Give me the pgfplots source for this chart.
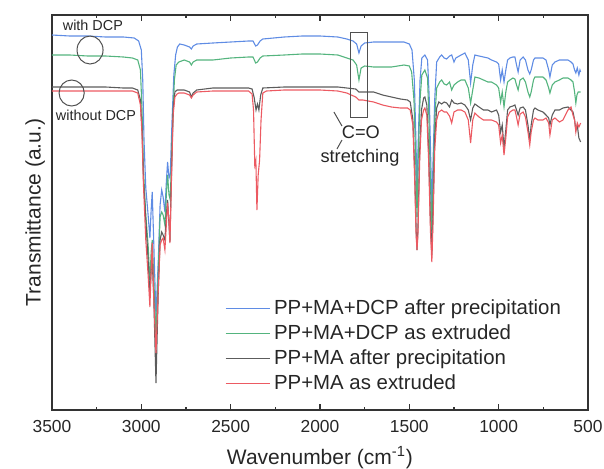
\documentclass[border=0pt]{standalone}
\usepackage{fontspec}
\setmainfont{Liberation Sans}
\usepackage{pgfplots}
\pgfplotsset{compat=1.18}

\definecolor{cblue}{RGB}{95,140,228}
\definecolor{cgreen}{RGB}{84,180,126}
\definecolor{cdark}{RGB}{92,92,92}
\definecolor{cred}{RGB}{236,90,98}
\definecolor{cann}{RGB}{80,80,80}

\begin{document}
\begin{tikzpicture}
\begin{axis}[
  at={(0,0)}, anchor=south west,
  scale only axis, width=268pt, height=197.5pt,
  x dir=reverse, xmin=500, xmax=3500, ymin=0, ymax=395,
  xtick={500,1000,...,3500}, minor x tick num=1,
  ytick=\empty,
  tick align=inside, major tick length=3pt, minor tick length=1.6pt,
  xticklabel style={font=\fontsize{8.7}{9}\selectfont, text=black!85, yshift=-1.8pt},
  /pgf/number format/assume math mode=true,
  /pgf/number format/1000 sep={},
  xlabel={Wavenumber (cm\textsuperscript{-1})},
  ylabel={Transmittance (a.u.)},
  label style={font=\fontsize{10.5}{12}\selectfont, text=black!85},
  axis line style={line width=0.6pt, black!80},
  every tick/.style={black!80, line width=0.6pt},
  legend style={at={(0.322,0.29)}, anchor=north west, draw=none, fill=none,
    font=\fontsize{10.2}{12.2}\selectfont, inner sep=0pt, row sep=-0.4pt, text=black!85},
  legend cell align=left,
  legend image code/.code={\draw[#1] (0pt,0pt) -- (22pt,0pt);},
  every axis plot/.append style={line width=0.55pt},
]
% PP+MA+DCP after precipitation
\addplot[cblue] coordinates {
(3500,375)(3400,374)(3300,374)(3200,373)(3100,373)(3040,372)(3015,369)(3000,360)
(2992,330)(2985,270)(2975,222)(2962,195)(2952,172)(2945,200)(2939,218)(2930,165)
(2918,93)(2905,150)(2895,205)(2886,220)(2878,213)(2868,198)(2860,228)(2853,248)
(2845,232)(2838,236)(2828,290)(2818,335)(2808,355)(2798,363)(2785,366)(2760,365)
(2730,363)(2720,361)(2710,364)(2690,366)(2600,367)(2500,368)(2400,369)(2375,369)
(2360,364)(2350,365)(2335,369)(2320,371)(2200,373)(2100,374)(2000,374)(1900,373)
(1850,371)(1815,369)(1795,366)(1782,357)(1770,364)(1750,367)(1700,368)(1600,368)
(1530,368)(1500,366)(1485,360)(1472,330)(1463,270)(1457,217)(1450,270)(1440,330)
(1430,352)(1413,355)(1398,350)(1388,310)(1380,250)(1374,203)(1367,250)(1358,310)
(1347,348)(1330,353)(1319,355)(1305,352)(1291,351)(1275,354)(1263,355)(1250,348)
(1240,352)(1210,355)(1189,357)(1170,350)(1157,327)(1145,345)(1133,355)(1110,354)
(1085,353)(1060,352)(1040,350)(1012,348)(1000,346)(989,330)(980,340)(970,328)
(960,340)(950,350)(937,352)(920,353)(909,353)(900,345)(891,338)(880,350)
(863,353)(850,350)(836,340)(826,336)(818,340)(805,350)(797,352)(780,352)
(752,352)(735,350)(720,340)(713,333)(700,345)(685,348)(660,350)(640,350)
(612,350)(595,348)(584,346)(575,340)(568,337)(560,342)(551,335)(545,340)(541,338)
};
\addlegendentry{PP+MA+DCP after precipitation}
% PP+MA+DCP as extruded
\addplot[cgreen] coordinates {
(3500,355)(3400,355)(3300,354)(3200,354)(3100,353)(3050,352)(3020,350)(3005,340)
(2996,300)(2988,240)(2975,195)(2962,165)(2952,128)(2945,158)(2939,170)(2930,130)
(2918,73)(2905,140)(2895,193)(2886,198)(2878,195)(2868,185)(2860,215)(2853,235)
(2845,215)(2838,210)(2826,280)(2815,330)(2805,345)(2790,348)(2760,350)(2730,348)
(2720,345)(2710,348)(2690,350)(2600,350)(2500,352)(2400,353)(2375,353)(2360,347)
(2350,348)(2335,352)(2320,354)(2200,355)(2100,356)(2000,356)(1900,355)(1850,352)
(1815,350)(1795,345)(1782,330)(1770,342)(1750,344)(1700,343)(1600,343)(1530,345)
(1500,344)(1487,338)(1474,310)(1465,255)(1457,193)(1450,255)(1440,310)(1430,335)
(1413,340)(1398,332)(1390,290)(1382,230)(1374,177)(1367,230)(1358,290)(1347,322)
(1330,328)(1319,330)(1305,326)(1291,325)(1275,328)(1263,320)(1250,325)(1230,328)
(1210,330)(1189,330)(1170,322)(1157,307)(1145,320)(1133,333)(1110,332)(1085,330)
(1060,328)(1040,328)(1012,325)(1000,322)(989,308)(980,318)(970,303)(960,318)
(950,328)(937,330)(920,332)(909,331)(900,325)(891,320)(880,330)(863,332)
(850,328)(836,318)(826,313)(818,318)(805,330)(797,333)(780,333)(752,333)
(735,330)(720,322)(713,317)(700,325)(685,328)(660,330)(640,332)(612,332)
(595,330)(584,328)(575,318)(568,307)(562,315)(555,318)(548,318)(541,318)
};
\addlegendentry{PP+MA+DCP as extruded}
% PP+MA after precipitation
\addplot[cdark] coordinates {
(3500,323)(3400,323)(3300,323)(3200,323)(3100,322)(3050,322)(3020,320)(3005,310)
(2996,280)(2988,230)(2975,190)(2962,150)(2952,115)(2945,140)(2939,150)(2930,110)
(2918,27)(2905,120)(2895,170)(2886,178)(2878,175)(2868,170)(2860,195)(2853,210)
(2845,185)(2840,168)(2832,230)(2822,300)(2812,318)(2800,320)(2790,320)(2760,320)
(2730,318)(2720,313)(2710,317)(2690,320)(2600,322)(2500,322)(2400,322)(2380,321)
(2368,312)(2358,300)(2350,306)(2342,300)(2332,315)(2320,322)(2200,323)(2100,323)
(2000,323)(1900,323)(1850,322)(1800,321)(1782,318)(1750,318)(1700,318)(1650,315)
(1600,313)(1550,311)(1510,310)(1495,308)(1480,290)(1470,240)(1462,180)(1457,160)
(1452,180)(1442,260)(1432,300)(1420,312)(1413,313)(1402,305)(1392,260)(1382,190)
(1374,155)(1367,200)(1358,270)(1347,302)(1335,308)(1319,306)(1305,308)(1291,307)
(1275,303)(1263,310)(1250,307)(1230,306)(1210,307)(1189,305)(1170,300)(1157,290)
(1145,302)(1133,306)(1110,303)(1085,300)(1060,300)(1040,298)(1012,300)(1000,295)
(989,278)(980,285)(970,262)(960,280)(950,300)(937,303)(920,304)(909,305)
(900,300)(891,295)(880,302)(863,303)(850,300)(836,285)(826,270)(818,285)
(805,300)(797,302)(780,300)(752,298)(735,295)(720,292)(713,285)(700,295)
(685,300)(660,300)(640,302)(612,303)(595,300)(584,298)(575,290)(568,280)
(560,285)(551,272)(541,268)
};
\addlegendentry{PP+MA after precipitation}
% PP+MA as extruded
\addplot[cred] coordinates {
(3500,319)(3400,319)(3300,319)(3200,319)(3100,319)(3050,319)(3020,317)(3005,305)
(2996,275)(2988,225)(2975,170)(2962,135)(2952,103)(2945,140)(2939,167)(2930,110)
(2918,57)(2905,120)(2895,165)(2886,170)(2878,172)(2868,160)(2860,185)(2853,207)
(2845,188)(2840,167)(2832,225)(2822,295)(2812,313)(2800,316)(2790,317)(2760,317)
(2730,315)(2720,312)(2710,315)(2690,318)(2600,319)(2500,319)(2400,319)(2380,316)
(2372,300)(2365,245)(2359,250)(2353,200)(2346,235)(2338,250)(2330,290)(2320,317)
(2300,319)(2200,320)(2100,320)(2000,320)(1900,319)(1850,317)(1800,313)(1782,310)
(1760,310)(1700,308)(1650,305)(1600,303)(1550,302)(1510,302)(1495,300)(1480,285)
(1470,230)(1462,175)(1457,160)(1452,175)(1442,250)(1432,290)(1420,300)(1413,302)
(1402,295)(1392,250)(1382,180)(1374,148)(1367,190)(1358,260)(1347,290)(1335,298)
(1319,300)(1305,298)(1291,298)(1275,294)(1263,287)(1250,298)(1230,300)(1210,300)
(1189,298)(1170,290)(1157,267)(1145,290)(1133,297)(1110,293)(1085,290)(1060,290)
(1040,290)(1012,288)(1000,285)(989,267)(980,275)(970,255)(960,272)(950,293)
(937,298)(920,300)(909,300)(900,293)(891,285)(880,296)(863,298)(850,293)
(836,278)(826,265)(818,278)(805,290)(797,292)(780,290)(752,290)(735,292)
(720,287)(713,275)(700,290)(685,292)(660,288)(640,290)(612,300)(595,303)
(584,295)(575,290)(568,278)(560,287)(551,283)(541,287)
};
\addlegendentry{PP+MA as extruded}

% annotations
\node[font=\fontsize{7.2}{8}\selectfont, text=black!85] at (axis cs:3271,385) {with DCP};
\node[font=\fontsize{7.2}{8}\selectfont, text=black!85] at (axis cs:3254,295) {without DCP};
\draw[cann, line width=0.5pt] (axis cs:3287,360) ellipse [x radius=6.5pt, y radius=7pt];
\draw[cann, line width=0.5pt] (axis cs:3390,317) ellipse [x radius=6.3pt, y radius=6.5pt];
\draw[cann, line width=0.5pt] (axis cs:1827,378) rectangle (axis cs:1732,293);
\node[font=\fontsize{9.1}{10}\selectfont, text=black!85] at (axis cs:1771,278) {C=O};
\node[font=\fontsize{9.1}{10}\selectfont, text=black!85] at (axis cs:1776,252) {stretching};
\draw[cann, line width=0.5pt] (axis cs:1922,298) -- (axis cs:1877,284);
\draw[cann, line width=0.5pt] (axis cs:1877,270) -- (axis cs:1905,261);
\end{axis}
\pgfresetboundingbox
\path[use as bounding box] (-26pt,-29pt) rectangle (276pt,205pt);
\end{tikzpicture}
\end{document}
